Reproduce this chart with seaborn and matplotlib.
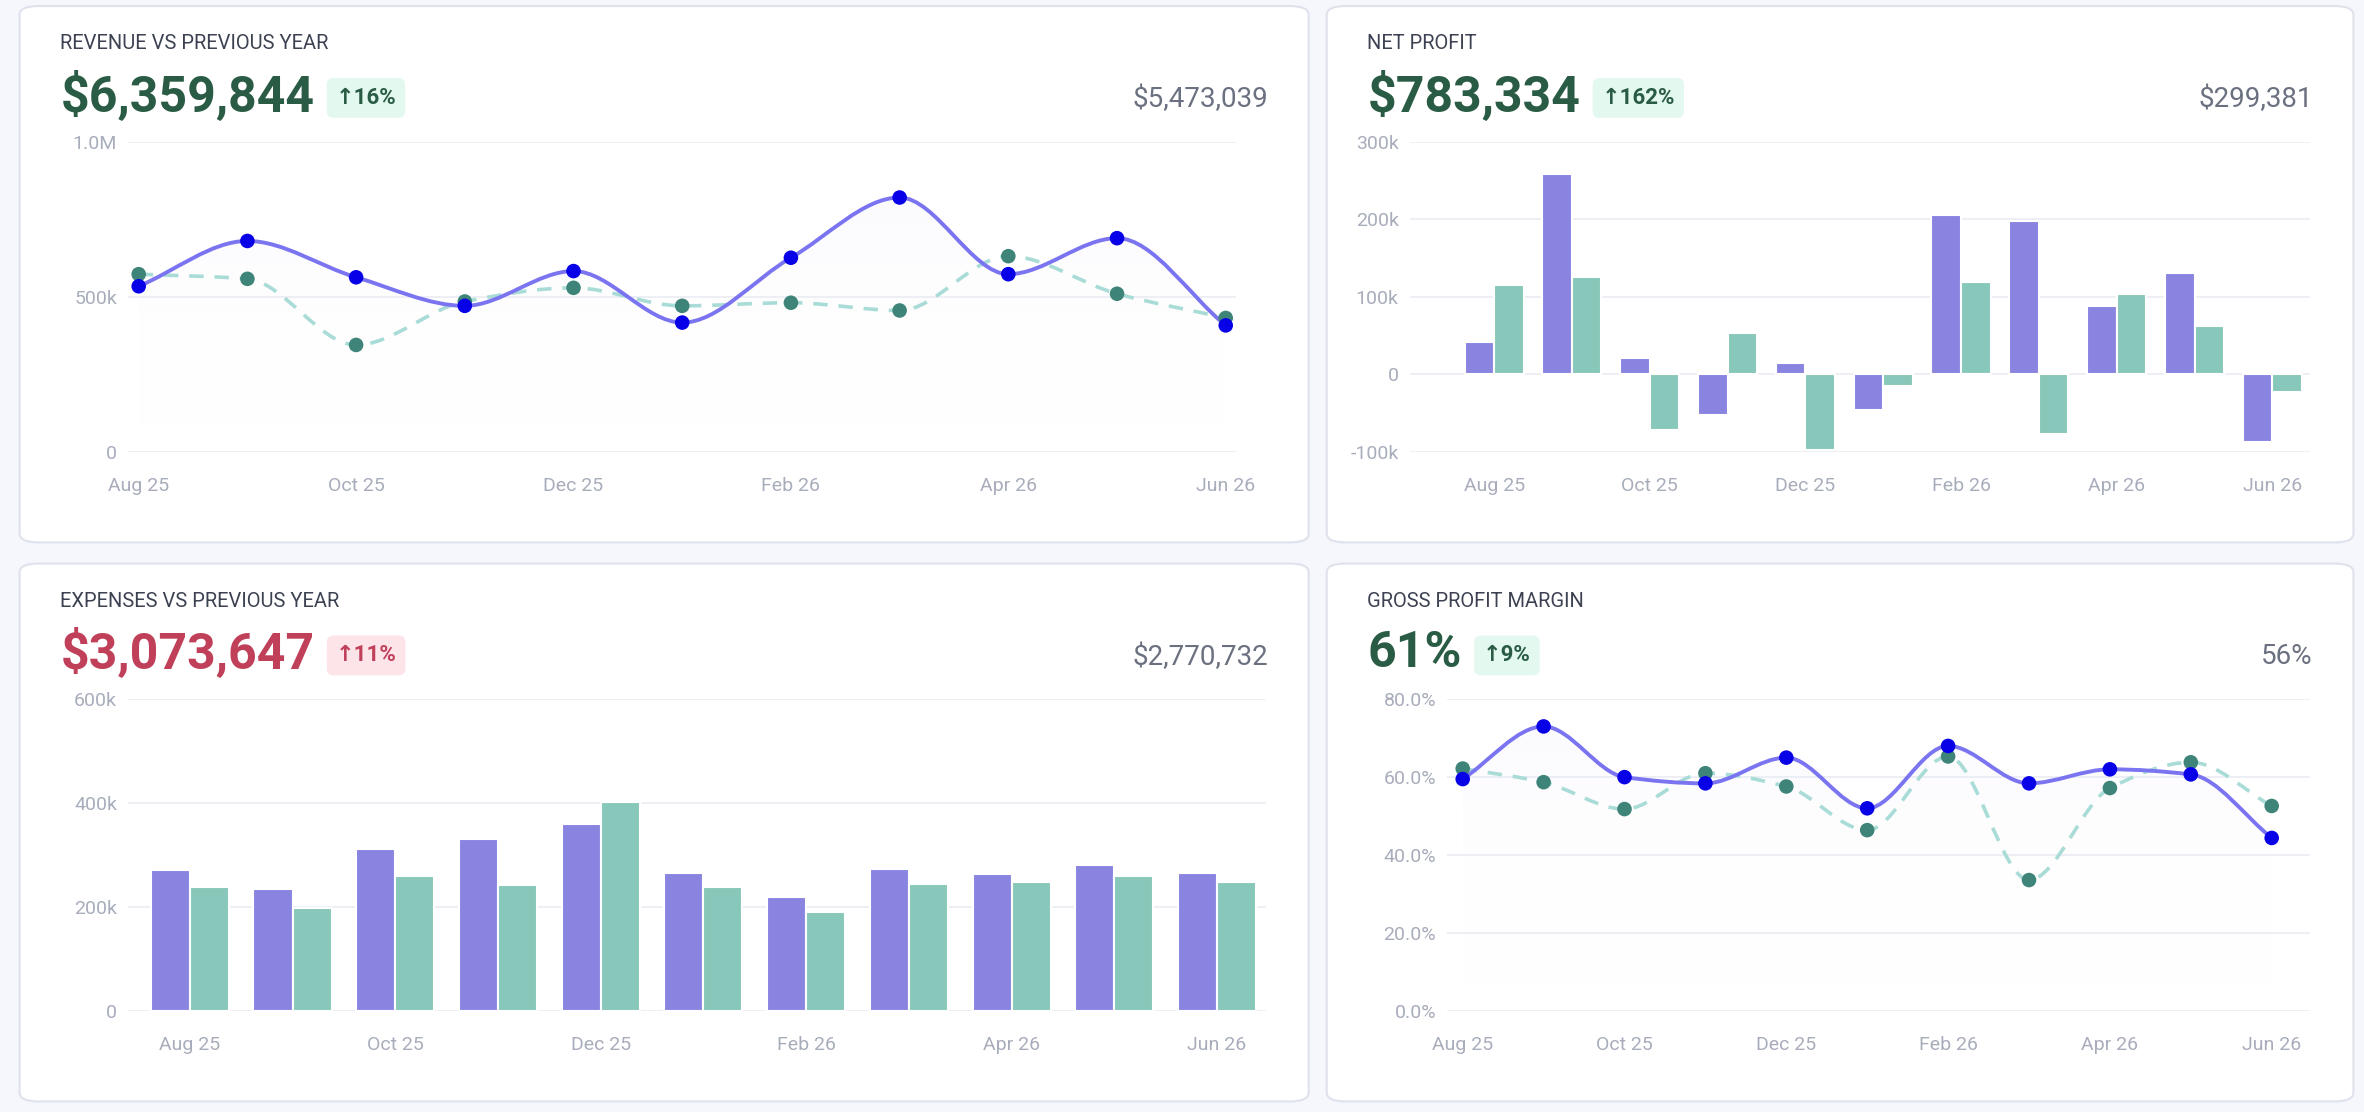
import numpy as np
import pandas as pd
import matplotlib
matplotlib.use("Agg")
import matplotlib.pyplot as plt
import seaborn as sns
from matplotlib.patches import FancyBboxPatch, PathPatch
from matplotlib.path import Path

# data
months = ["Aug 25", "Sep 25", "Oct 25", "Nov 25", "Dec 25", "Jan 26",
          "Feb 26", "Mar 26", "Apr 26", "May 26", "Jun 26"]
revenue_cur = [534, 680, 563, 471, 583, 417, 626, 820, 573, 689, 408]
revenue_prev = [573, 558, 345, 485, 529, 471, 481, 456, 631, 510, 432]
profit_cur = [42, 258, 21, -52, 15, -46, 206, 198, 88, 131, -87]
profit_prev = [115, 125, -71, 54, -98, -15, 119, -77, 104, 62, -23]
expenses_cur = [271, 234, 312, 330, 359, 266, 219, 274, 263, 280, 266]
expenses_prev = [239, 199, 260, 242, 403, 239, 190, 245, 248, 260, 248]
margin_cur = [59.5, 73, 60, 58.4, 65, 52, 68, 58.4, 62, 60.7, 44.4]
margin_prev = [62.2, 58.7, 51.8, 61, 57.6, 46.4, 65.3, 33.6, 57.2, 63.8, 52.6]

PURPLE = "#7b74f0"
TEAL = "#7dd3c0"
DOT_CUR = "#0800e6"
DOT_PREV = "#3e8479"
DASH = "#a9dcd7"
GREEN = "#2a5c45"
RED = "#c0405a"
GREY = "#6b7180"
TICK = "#a8adbb"
GRID = "#eceef4"

sns.set_theme(style="white")
plt.rcParams["font.family"] = ["Roboto", "DejaVu Sans"]

W, H = 1568, 738
fig = plt.figure(figsize=(23.64, 11.12), dpi=100)
fig.patch.set_facecolor("#f6f7fc")


def fx(x):
    return x / W


def fy(y):
    return 1 - y / H


def card(x0, y0, x1, y1):
    p = FancyBboxPatch((fx(x0), fy(y1)), fx(x1 - x0), fy(y0) - fy(y1),
                       boxstyle="round,pad=0,rounding_size=0.008",
                       transform=fig.transFigure, facecolor="white",
                       edgecolor="#dfe2ec", linewidth=1.5, zorder=-10)
    fig.patches.append(p)


def header(x0, x1, ytop, title, value, badge, prev, color, badge_bg):
    fig.text(fx(x0 + 27), fy(ytop + 25), title, fontsize=14.5, color="#3c4252",
             va="center", ha="left")
    t = fig.text(fx(x0 + 27), fy(ytop + 60), value, fontsize=36, fontweight="bold",
                 color=color, va="center", ha="left")
    fig.canvas.draw()
    bb = t.get_window_extent()
    bx = bb.x1 / fig.dpi / fig.get_figwidth() + 0.009
    fig.text(bx, fy(ytop + 61), badge, fontsize=16, fontweight="bold", color=color,
             va="center", ha="left",
             bbox=dict(boxstyle="round,pad=0.4,rounding_size=0.3",
                       facecolor=badge_bg, edgecolor="none"))
    fig.text(fx(x1 - 27), fy(ytop + 62), prev, fontsize=20, color=GREY,
             va="center", ha="right")


def make_ax(x0, x1, ytop, ybot, xlim, ylim, yticks, ylabels):
    ax = fig.add_axes([fx(x0), fy(ybot), fx(x1 - x0), fy(ytop) - fy(ybot)])
    ax.set_facecolor("none")
    ax.set_xlim(*xlim)
    ax.set_ylim(*ylim)
    ax.set_yticks(yticks)
    ax.set_yticklabels(ylabels)
    ax.set_xticks(range(0, 11, 2))
    ax.set_xticklabels(months[::2])
    ax.grid(axis="y", color=GRID, linewidth=1.3)
    ax.set_axisbelow(True)
    for s in ax.spines.values():
        s.set_visible(False)
    ax.tick_params(axis="both", length=0, labelsize=14, colors=TICK)
    ax.tick_params(axis="x", pad=18)
    ax.tick_params(axis="y", pad=8)
    return ax


def smooth_path(xs, ys):
    # cubic bezier through the points (monotone tangents)
    xs = np.asarray(xs, float)
    ys = np.asarray(ys, float)
    n = len(xs)
    m = np.zeros(n)
    for i in range(n):
        if i == 0:
            m[i] = (ys[1] - ys[0]) / (xs[1] - xs[0])
        elif i == n - 1:
            m[i] = (ys[-1] - ys[-2]) / (xs[-1] - xs[-2])
        else:
            d0 = (ys[i] - ys[i - 1])
            d1 = (ys[i + 1] - ys[i])
            m[i] = 0 if d0 * d1 <= 0 else 2 / (1 / d0 + 1 / d1)
    verts = [(xs[0], ys[0])]
    codes = [Path.MOVETO]
    for i in range(n - 1):
        h = xs[i + 1] - xs[i]
        verts += [(xs[i] + h / 3, ys[i] + m[i] * h / 3),
                  (xs[i + 1] - h / 3, ys[i + 1] - m[i + 1] * h / 3),
                  (xs[i + 1], ys[i + 1])]
        codes += [Path.CURVE4] * 3
    return verts, codes


def line_chart(ax, cur, prev, base):
    x = np.arange(len(cur))
    v, c = smooth_path(x, cur)
    fill_v = v + [(x[-1], base), (x[0], base), v[0]]
    fill_c = c + [Path.LINETO, Path.LINETO, Path.CLOSEPOLY]
    patch = PathPatch(Path(fill_v, fill_c), facecolor="none", edgecolor="none")
    ax.add_patch(patch)
    grad = np.linspace(0.17, 0.0, 256).reshape(-1, 1)
    cmap = matplotlib.colors.LinearSegmentedColormap.from_list(
        "g", [(1, 1, 1, 0), (0.48, 0.45, 0.94, 1)])
    im = ax.imshow(grad, extent=[x[0], x[-1], base, max(cur)], aspect="auto",
                   cmap=cmap, vmin=0, vmax=1, origin="upper", zorder=1)
    im.set_clip_path(patch)
    vp, cp = smooth_path(x, prev)
    ax.add_patch(PathPatch(Path(vp, cp), facecolor="none", edgecolor=DASH,
                           linewidth=2.6, linestyle=(0, (4, 3)), zorder=2))
    ax.add_patch(PathPatch(Path(v, c), facecolor="none", edgecolor=PURPLE,
                           linewidth=2.8, zorder=3))
    df = pd.DataFrame({"m": x, "cur": cur, "prev": prev})
    sns.scatterplot(data=df, x="m", y="prev", ax=ax, color=DOT_PREV, s=110,
                    edgecolor="none", zorder=4)
    sns.scatterplot(data=df, x="m", y="cur", ax=ax, color=DOT_CUR, s=110,
                    edgecolor="none", zorder=5)
    ax.set_xlabel("")
    ax.set_ylabel("")


def bar_chart(ax, cur, prev):
    df = pd.DataFrame({"m": months * 2, "v": list(cur) + list(prev),
                       "s": ["cur"] * 11 + ["prev"] * 11})
    xl, yl = ax.get_xlim(), ax.get_ylim()
    sns.barplot(data=df, x="m", y="v", hue="s", palette=[PURPLE, TEAL], ax=ax,
                width=0.76, legend=False, edgecolor="white", linewidth=1.5,
                zorder=2)
    ax.set_xlim(*xl)
    ax.set_ylim(*yl)
    ax.set_xticks(range(0, 11, 2))
    ax.set_xticklabels(months[::2])
    ax.set_xlabel("")
    ax.set_ylabel("")


# cards
card(13, 4, 868, 360)
card(880, 4, 1561, 360)
card(13, 374, 868, 731)
card(880, 374, 1561, 731)

header(13, 868, 4, "REVENUE VS PREVIOUS YEAR", "$6,359,844", "↑16%", "$5,473,039",
       GREEN, "#e3f8ee")
header(880, 1561, 4, "NET PROFIT", "$783,334", "↑162%", "$299,381", GREEN, "#e3f8ee")
header(13, 868, 374, "EXPENSES VS PREVIOUS YEAR", "$3,073,647", "↑11%", "$2,770,732",
       RED, "#fce4e9")
header(880, 1561, 374, "GROSS PROFIT MARGIN", "61%", "↑9%", "56%", GREEN, "#e3f8ee")

# revenue
ax1 = make_ax(85, 820, 94, 300, (-0.097, 10.097), (0, 1000),
              [0, 500, 1000], ["0", "500k", "1.0M"])
line_chart(ax1, revenue_cur, revenue_prev, 70)

# net profit
ax2 = make_ax(935, 1532, 94, 300, (-1.085, 10.48), (-100, 300),
              [-100, 0, 100, 200, 300], ["-100k", "0", "100k", "200k", "300k"])
bar_chart(ax2, profit_cur, profit_prev)

# expenses
ax3 = make_ax(85, 840, 464, 671, (-0.6, 10.48), (0, 600),
              [0, 200, 400, 600], ["0", "200k", "400k", "600k"])
bar_chart(ax3, expenses_cur, expenses_prev)

# gross margin
ax4 = make_ax(960, 1532, 464, 671, (-0.19, 10.47), (0, 80),
              [0, 20, 40, 60, 80], ["0.0%", "20.0%", "40.0%", "60.0%", "80.0%"])
line_chart(ax4, margin_cur, margin_prev, 5)

fig.savefig("out.png", dpi=100, facecolor=fig.get_facecolor())
